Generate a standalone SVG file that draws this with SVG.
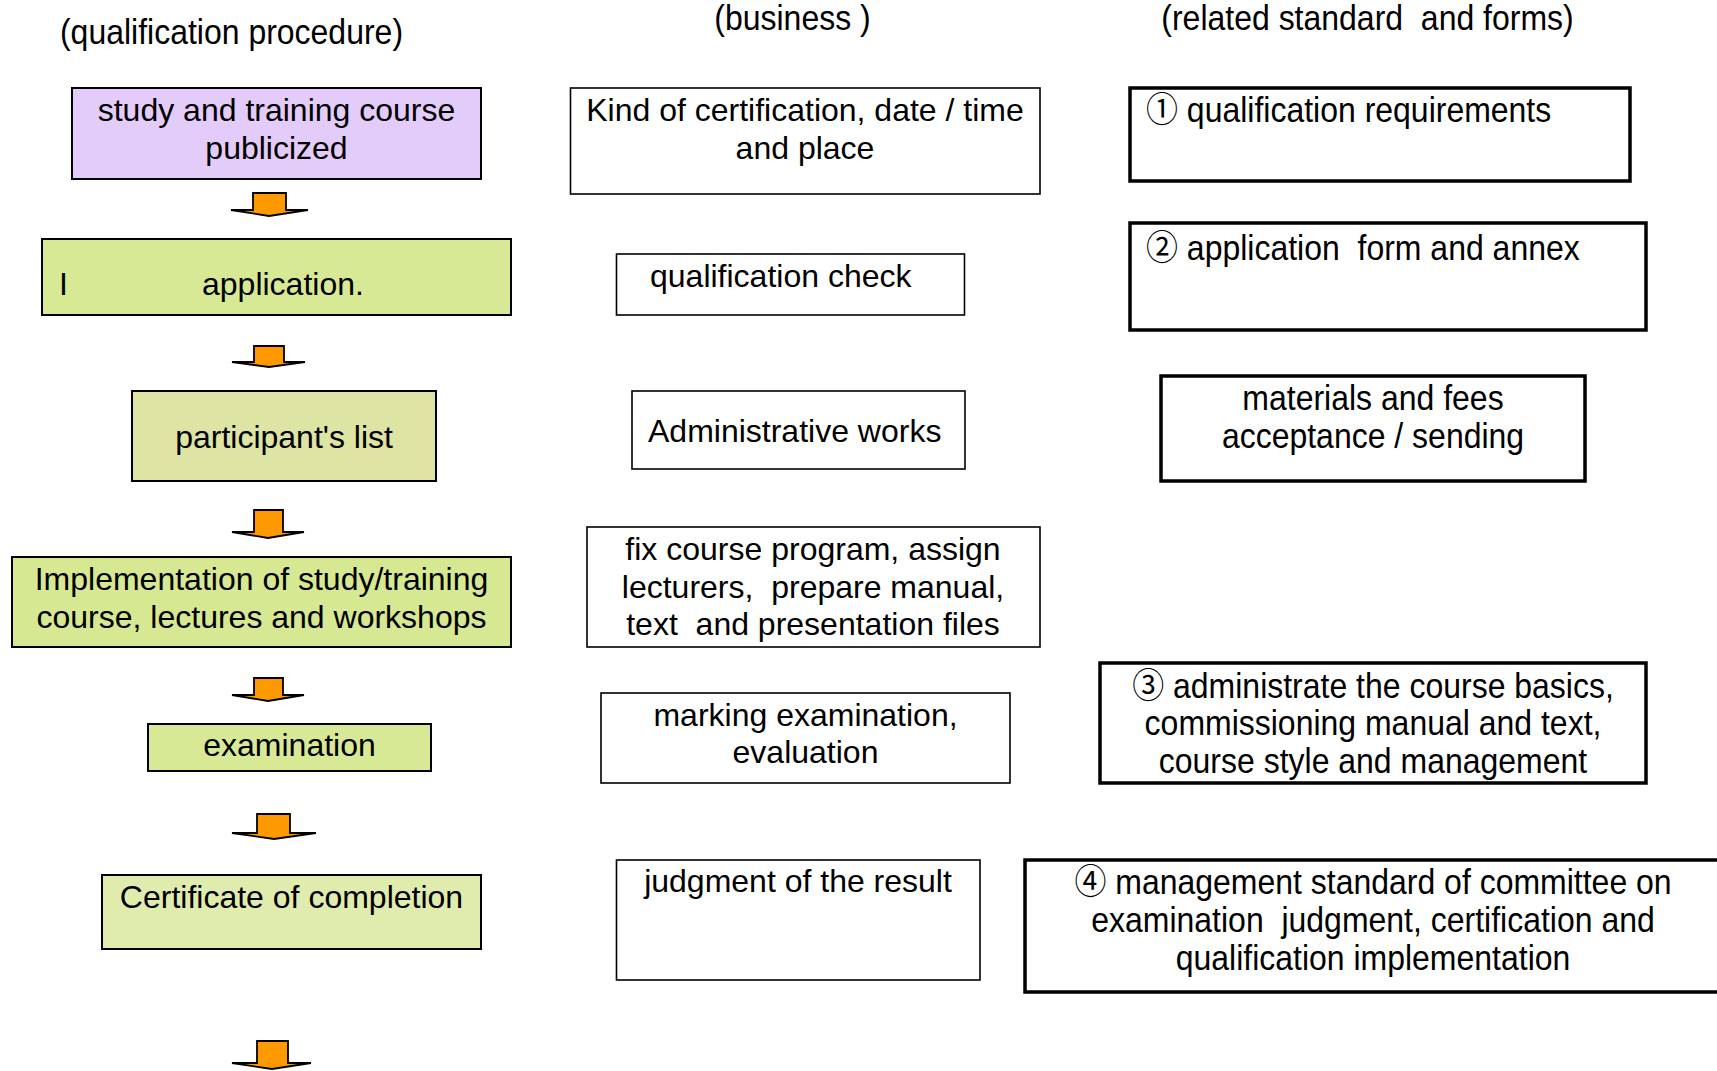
<svg xmlns="http://www.w3.org/2000/svg" width="1717" height="1071" viewBox="0 0 1717 1071">
<style>
.t{font-family:"Liberation Sans",Arial,"Noto Sans CJK JP",sans-serif;font-size:32px;fill:#000}
.n{font-size:35px}
.c{text-anchor:middle}
.bl{stroke:#000;stroke-width:2}
.bm{fill:#fff;stroke:#000;stroke-width:1.6}
.br{fill:#fff;stroke:#000;stroke-width:3.5}
.arr{fill:#FF9900;stroke:#000;stroke-width:1.8;stroke-linejoin:miter}
</style>
<rect width="1717" height="1071" fill="#fff"/>
<g id="titles">
  <g transform="translate(231.5,0) scale(0.914,1)"><text class="t n c" x="0" y="44">(qualification procedure)</text></g>
  <g transform="translate(792.5,0) scale(0.914,1)"><text class="t n c" x="0" y="30">(business )</text></g>
  <g transform="translate(1367.5,0) scale(0.914,1)"><text class="t n c" x="0" y="30">(related standard&#160; and forms)</text></g>
</g>
<g id="connectors">
  <polygon class="arr" points="253,193 286,193 286,210 308,210 269,216 231,210 253,210"/>
  <polygon class="arr" points="254,346 284,346 284,362 305,362 269,367 232,362 254,362"/>
  <polygon class="arr" points="254,510 283,510 283,532 304,532 268,538 232,532 254,532"/>
  <polygon class="arr" points="254,678 283,678 283,695 304,695 268,701 232,695 254,695"/>
  <polygon class="arr" points="257,814 290,814 290,833 316,833 274,839 232,833 257,833"/>
  <polygon class="arr" points="257,1041 288,1041 288,1063 311,1063 272,1069 232,1063 257,1063"/>
</g>
<g id="p1">
  <rect class="bl" x="72" y="88" width="409" height="91" fill="#E3CCFA"/>
  <text class="t c" x="276.5" y="121">study and training course</text>
  <text class="t c" x="276.5" y="159">publicized</text>
</g>
<g id="p2">
  <rect class="bl" x="42" y="239" width="469" height="76" fill="#D8E996"/>
  <text class="t" x="59" y="295">I</text>
  <text class="t" x="202" y="295">application.</text>
</g>
<g id="p3">
  <rect class="bl" x="132" y="391" width="304" height="90" fill="#DDE4A4"/>
  <text class="t c" x="284" y="448">participant's list</text>
</g>
<g id="p4">
  <rect class="bl" x="12" y="557" width="499" height="90" fill="#D6E891"/>
  <text class="t c" x="261.5" y="590">Implementation of study/training</text>
  <text class="t c" x="261.5" y="628">course, lectures and workshops</text>
</g>
<g id="p5">
  <rect class="bl" x="148" y="724" width="283" height="47" fill="#D8E996"/>
  <text class="t c" x="289.5" y="756">examination</text>
</g>
<g id="p6">
  <rect class="bl" x="102" y="875" width="379" height="74" fill="#DFECAD"/>
  <text class="t c" x="291.5" y="908">Certificate of completion</text>
</g>
<g id="b1">
  <rect class="bm" x="570.5" y="88" width="469.5" height="106"/>
  <text class="t c" x="805" y="120.5">Kind of certification, date / time</text>
  <text class="t c" x="805" y="159">and place</text>
</g>
<g id="b2">
  <rect class="bm" x="616.5" y="254" width="348" height="61"/>
  <text class="t" x="650" y="287">qualification check</text>
</g>
<g id="b3">
  <rect class="bm" x="632" y="391" width="333" height="78"/>
  <text class="t" x="648" y="442">Administrative works</text>
</g>
<g id="b4">
  <rect class="bm" x="587" y="527" width="453" height="120"/>
  <text class="t c" x="813" y="559.5">fix course program, assign</text>
  <text class="t c" x="813" y="598">lecturers,&#160; prepare manual,</text>
  <text class="t c" x="813" y="635">text&#160; and presentation files</text>
</g>
<g id="b5">
  <rect class="bm" x="601" y="693" width="409" height="90"/>
  <text class="t c" x="805.5" y="726">marking examination,</text>
  <text class="t c" x="805.5" y="763">evaluation</text>
</g>
<g id="b6">
  <rect class="bm" x="616.5" y="860" width="363.5" height="120"/>
  <text class="t c" x="798" y="892">judgment of the result</text>
</g>
<g id="r1">
  <rect class="br" x="1130" y="88" width="500" height="93"/>
  <g transform="translate(1146,0) scale(0.914,1)"><text class="t n" x="0" y="122">① qualification requirements</text></g>
</g>
<g id="r2">
  <rect class="br" x="1130" y="223" width="516" height="107"/>
  <g transform="translate(1146,0) scale(0.914,1)"><text class="t n" x="0" y="260">② application&#160; form and annex</text></g>
</g>
<g id="r3">
  <rect class="br" x="1161" y="376" width="424" height="105"/>
  <g transform="translate(1373,0) scale(0.914,1)">
    <text class="t n c" x="0" y="410">materials and fees</text>
    <text class="t n c" x="0" y="448">acceptance / sending</text>
  </g>
</g>
<g id="r4">
  <rect class="br" x="1100" y="663" width="546" height="120"/>
  <g transform="translate(1373,0) scale(0.914,1)">
    <text class="t n c" x="0" y="698">③ administrate the course basics,</text>
    <text class="t n c" x="0" y="735">commissioning manual and text,</text>
    <text class="t n c" x="0" y="773">course style and management</text>
  </g>
</g>
<g id="r5">
  <rect class="br" x="1025" y="860" width="710" height="132"/>
  <g transform="translate(1373,0) scale(0.914,1)">
    <text class="t n c" x="0" y="894">④ management standard of committee on</text>
    <text class="t n c" x="0" y="932">examination&#160; judgment, certification and</text>
    <text class="t n c" x="0" y="970">qualification implementation</text>
  </g>
</g>
</svg>
